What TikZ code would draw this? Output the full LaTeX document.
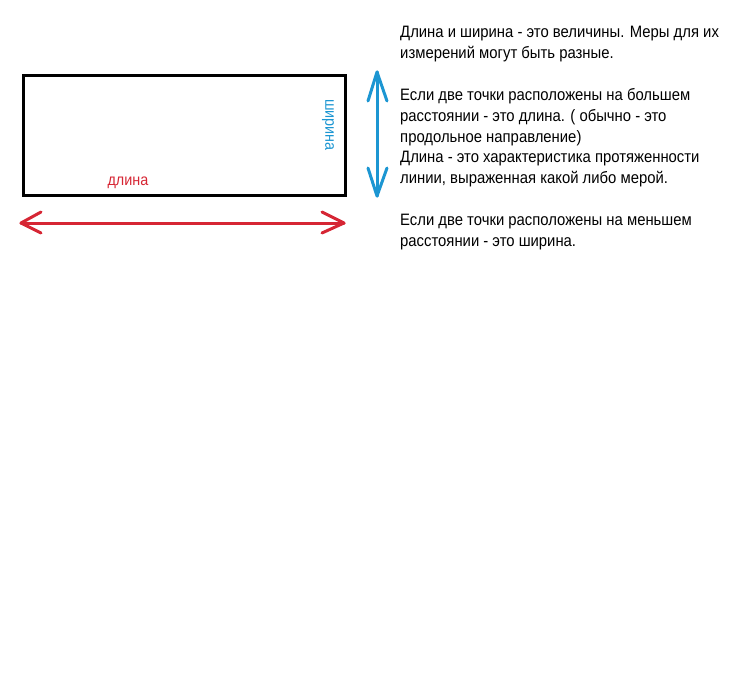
\documentclass[tikz,border=0pt]{standalone}
\usepackage{fontspec}
\usetikzlibrary{calc}
\setmainfont[FakeStretch=0.9]{Liberation Sans}
\definecolor{redc}{RGB}{214,38,52}
\definecolor{bluec}{RGB}{28,150,210}
\begin{document}
\begin{tikzpicture}[x=1pt,y=-1pt,
  txt/.style={font=\fontsize{16.5}{20.9}\selectfont, text=black, inner sep=0pt, align=left, anchor=north west},
  lbl/.style={font=\fontsize{16}{18}\selectfont, inner sep=0pt},
  vee/.style={line width=3pt, line cap=round, line join=round}]
\useasboundingbox (0,0) rectangle (750,693);
\node[draw=black, line width=3pt, minimum width=322pt, minimum height=120pt, inner sep=0pt, anchor=north west] (box) at (22,74) {};
\node[lbl, text=bluec, rotate=-90] (w) at (328,125) {ширина};
\node[lbl, text=redc] (l) at (128,183) {длина};
% red arrow
\coordinate (rl) at (21,223);
\coordinate (rr) at (344,223);
\draw[vee, draw=redc] (rl) -- (rr);
\draw[vee, draw=redc] ($(rl)+(20,-11)$) -- (rl) -- ($(rl)+(20,10)$);
\draw[vee, draw=redc] ($(rr)+(-22,-11)$) -- (rr) -- ($(rr)+(-22,10)$);
% blue arrow
\coordinate (bt) at (377,72);
\coordinate (bb) at (377,196);
\draw[vee, draw=bluec] (bt) -- (bb);
\draw[vee, draw=bluec] ($(bt)+(-9,29)$) -- (bt) -- ($(bt)+(10,29)$);
\draw[vee, draw=bluec] ($(bb)+(-9,-28)$) -- (bb) -- ($(bb)+(10,-28)$);
\node[txt] (t) at (400,26) {Длина и ширина - это величины. Меры для их\\
измерений могут быть разные.\\[20.9pt]
Если две точки расположены на большем\\
расстоянии - это длина. ( обычно - это\\
продольное направление)\\
Длина - это характеристика протяженности\\
линии, выраженная какой либо мерой.\\[20.9pt]
Если две точки расположены на меньшем\\
расстоянии - это ширина.};
\end{tikzpicture}
\end{document}
